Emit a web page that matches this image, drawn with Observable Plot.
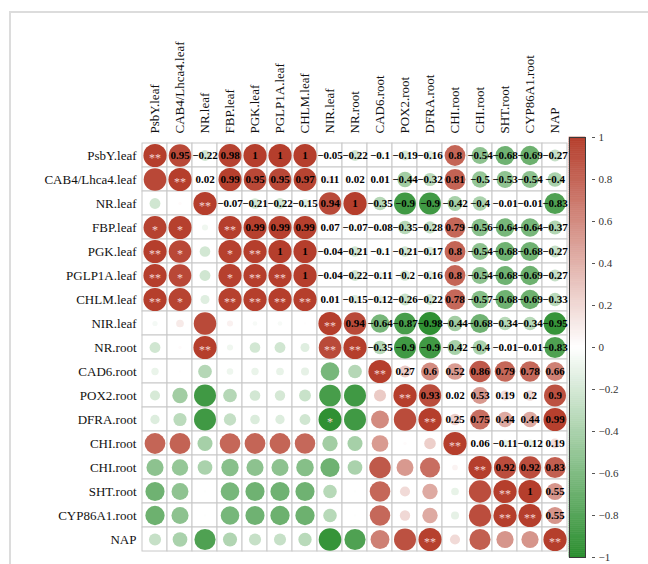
<!DOCTYPE html>
<html>
<head>
<meta charset="utf-8">
<script src="https://cdn.jsdelivr.net/npm/d3@7"></script>
<script src="https://cdn.jsdelivr.net/npm/@observablehq/plot@0.6"></script>
<style>
  html, body { margin: 0; padding: 0; background: white; }
  #wrap { position: relative; width: 648px; height: 564px; overflow: hidden; }
  #wrap > * { position: absolute; }
  #border { left: 9px; top: 11px; width: 660px; height: 600px;
            border-top: 2px solid #dcdcdc; border-left: 2px solid #dcdcdc; }
</style>
</head>
<body>
<div id="wrap"><div id="border"></div></div>
<script>
// Variables, in matrix order (rows top to bottom, columns left to right)
const names = [
  "PsbY.leaf", "CAB4/Lhca4.leaf", "NR.leaf", "FBP.leaf", "PGK.leaf",
  "PGLP1A.leaf", "CHLM.leaf", "NIR.leaf", "NR.root", "CAD6.root",
  "POX2.root", "DFRA.root", "CHI.root", "CHI.root", "SHT.root",
  "CYP86A1.root", "NAP"
];

// Upper triangle correlations: row i holds r(i, j) for j = i+1 .. n-1
const upper = [
  [0.95, -0.22, 0.98, 1, 1, 1, -0.05, -0.22, -0.1, -0.19, -0.16, 0.8, -0.54, -0.68, -0.69, -0.27],
  [0.02, 0.99, 0.95, 0.95, 0.97, 0.11, 0.02, 0.01, -0.44, -0.32, 0.81, -0.5, -0.53, -0.54, -0.4],
  [-0.07, -0.21, -0.22, -0.15, 0.94, 1, -0.35, -0.9, -0.9, -0.42, -0.4, -0.01, -0.01, -0.83],
  [0.99, 0.99, 0.99, 0.07, -0.07, -0.08, -0.35, -0.28, 0.79, -0.56, -0.64, -0.64, -0.37],
  [1, 1, -0.04, -0.21, -0.1, -0.21, -0.17, 0.8, -0.54, -0.68, -0.68, -0.27],
  [1, -0.04, -0.22, -0.11, -0.2, -0.16, 0.8, -0.54, -0.68, -0.69, -0.27],
  [0.01, -0.15, -0.12, -0.26, -0.22, 0.78, -0.57, -0.68, -0.69, -0.33],
  [0.94, -0.64, -0.87, -0.98, -0.44, -0.68, -0.34, -0.34, -0.95],
  [-0.35, -0.9, -0.9, -0.42, -0.4, -0.01, -0.01, -0.83],
  [0.27, 0.6, 0.52, 0.86, 0.79, 0.78, 0.66],
  [0.93, 0.02, 0.53, 0.19, 0.2, 0.9],
  [0.25, 0.75, 0.44, 0.44, 0.99],
  [0.06, -0.11, -0.12, 0.19],
  [0.92, 0.92, 0.83],
  [1, 0.55],
  [0.55]
];

// Significance marks for the lower triangle and diagonal: row i holds columns 0 .. i
const stars = [
  ["**"],
  ["", "**"],
  ["", "", "**"],
  ["*", "*", "", "**"],
  ["**", "*", "", "*", "**"],
  ["**", "*", "", "*", "**", "**"],
  ["**", "*", "", "**", "**", "**", "**"],
  ["", "", "", "", "", "", "", "**"],
  ["", "", "**", "", "", "", "", "**", "**"],
  ["", "", "", "", "", "", "", "", "", "**"],
  ["", "", "", "", "", "", "", "", "", "", "**"],
  ["", "", "", "", "", "", "", "*", "", "", "", "**"],
  ["", "", "", "", "", "", "", "", "", "", "", "", "**"],
  ["", "", "", "", "", "", "", "", "", "", "", "", "", "**"],
  ["", "", "", "", "", "", "", "", "", "", "", "", "", "", "**"],
  ["", "", "", "", "", "", "", "", "", "", "", "", "", "", "**", "**"],
  ["", "", "", "", "", "", "", "", "", "", "", "**", "", "", "", "", "**"]
];

// Colour bar tick values
const barTicks = [-1, -0.8, -0.6, -0.4, -0.2, 0, 0.2, 0.4, 0.6, 0.8, 1];

const palette = ["#2B8E2F", "#FFFFFF", "#B53E2C"];
const serif = "'Liberation Serif', 'DejaVu Serif', serif";

const n = names.length;
const corr = (i, j) => i === j ? 1 : j > i ? upper[i][j - i - 1] : upper[j][i - j - 1];

const cells = [];
for (let i = 0; i < n; ++i)
  for (let j = 0; j < n; ++j)
    cells.push({i, j, r: corr(i, j), star: j <= i ? stars[i][j] : ""});

const upperCells = cells.filter(d => d.j > d.i);
const starCells = cells.filter(d => d.star);
const fmt = v => String(v).replace("-", "\u2212");

const colorScale = {type: "linear", domain: [-1, 0, 1], range: palette};

const matrix = Plot.plot({
  width: 648,
  height: 564,
  marginLeft: 141,
  marginRight: 81,
  marginTop: 137,
  marginBottom: 7,
  style: {fontFamily: serif, fontSize: "13px", background: "transparent", color: "#111"},
  x: {domain: d3.range(n), padding: 0, axis: null, label: null},
  y: {domain: d3.range(n), padding: 0, axis: null, label: null},
  color: colorScale,
  r: {type: "sqrt", domain: [0, 1], range: [0, 11.6]},
  marks: [
    Plot.axisX({anchor: "top", tickSize: 0, tickPadding: 4, tickRotate: -90,
                tickFormat: i => names[i], fontSize: 13, label: null}),
    Plot.axisY({anchor: "left", tickSize: 0, tickPadding: 5,
                tickFormat: i => names[i], fontSize: 13, label: null}),
    Plot.cell(cells, {x: "j", y: "i", fill: "white", stroke: "#c8c8c8", strokeWidth: 1}),
    Plot.dot(cells, {x: "j", y: "i", r: d => Math.abs(d.r), fill: "r", stroke: null}),
    Plot.text(upperCells, {x: "j", y: "i", text: d => fmt(d.r), fill: "black",
                           fontWeight: "bold", fontSize: 11}),
    Plot.text(starCells, {x: "j", y: "i", text: "star", fill: "#f2d6d0",
                          fontSize: 12, dy: 3})
  ]
});

// Colour bar: a stack of thin slices from -1 to 1 with a labelled axis
const steps = d3.range(200);
const colorbar = Plot.plot({
  width: 88,
  height: 564,
  marginLeft: 9,
  marginRight: 63,
  marginTop: 137,
  marginBottom: 7,
  style: {fontFamily: serif, fontSize: "11px", background: "transparent", color: "#333"},
  x: {domain: [0, 1], axis: null, label: null},
  y: {domain: [-1, 1], axis: null, label: null},
  color: colorScale,
  marks: [
    Plot.rect(steps, {x1: 0, x2: 1,
                      y1: k => -1 + k * 0.01, y2: k => -1 + (k + 1) * 0.01,
                      fill: k => -1 + (k + 0.5) * 0.01, stroke: k => -1 + (k + 0.5) * 0.01,
                      strokeWidth: 0.6}),
    Plot.frame({stroke: "#3a3a3a", strokeWidth: 1}),
    Plot.axisY({anchor: "right", ticks: barTicks, tickSize: 3, tickPadding: 4, dx: 6,
                tickFormat: fmt, stroke: "#555", fontSize: 11, label: null})
  ]
});

const wrap = document.getElementById("wrap");
matrix.style.left = "0px";
matrix.style.top = "0px";
colorbar.style.left = "560px";
colorbar.style.top = "0px";
wrap.appendChild(matrix);
wrap.appendChild(colorbar);
</script>
</body>
</html>
